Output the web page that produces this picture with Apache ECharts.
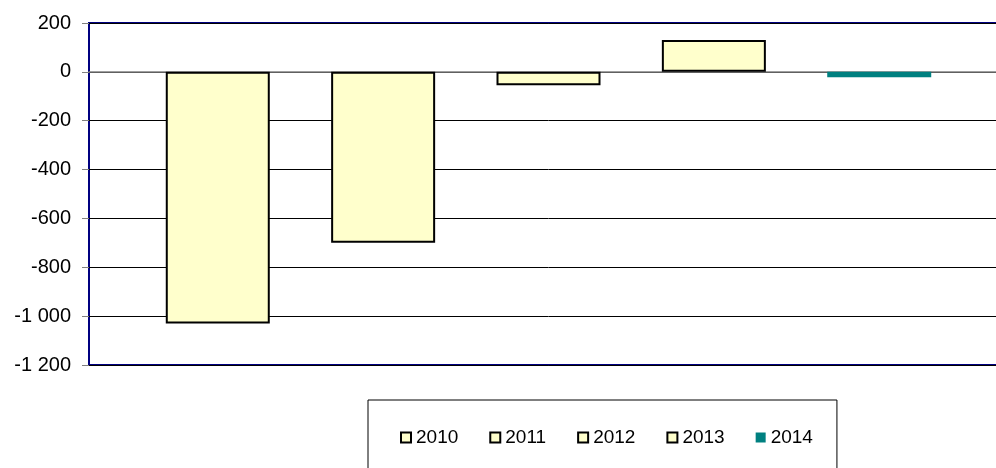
<!DOCTYPE html>
<html>
<head>
<meta charset="utf-8">
<script src="https://cdn.jsdelivr.net/npm/echarts@6/dist/echarts.min.js"></script>
<style>
  html, body { margin: 0; padding: 0; background: #fff; overflow: hidden; }
  #root { width: 1008px; height: 468px; }
</style>
</head>
<body>
<div id="root"></div>
<script>
// 数据
const years = ['2010', '2011', '2012', '2013', '2014'];
const values = [-1030, -700, -55, 130, -22];
const fills = ['#ffffcc', '#ffffcc', '#ffffcc', '#ffffcc', '#008080'];
const borders = ['#000', '#000', '#000', '#000', 'transparent'];

const FONT = 'Liberation Sans, Arial, sans-serif';

let fmt = function (v) {
    return String(v).replace(/\B(?=(\d{3})+(?!\d))/g, ' ');
};

let series = years.map((y, i) => {
    return {
        name: y,
        type: 'bar',
        data: [values[i]],
        barWidth: 104,
        barGap: '59%',
        itemStyle: {
            color: fills[i],
            borderColor: borders[i],
            borderWidth: i < 4 ? 2 : 0
        }
    };
});

// 图表区域比窗口宽一点，右边框在画面外
let myChart = echarts.init(document.getElementById('root'));
let option = {
    animation: false,
    grid: {
        left: 89,
        top: 23,
        bottom: 103,
        right: 0,
        show: true,
        borderColor: '#000080',
        borderWidth: 2,
        backgroundColor: '#fff'
    },
    legend: {
        data: years.map((y, i) => ({
            name: y,
            itemStyle: { color: fills[i], borderColor: borders[i], borderWidth: i < 4 ? 2 : 0 }
        })),
        left: 368,
        top: 400,
        orient: 'horizontal',
        icon: 'rect',
        itemWidth: 10,
        itemHeight: 10,
        itemGap: 31,
        padding: [28, 24, 60, 32],
        borderColor: '#000',
        borderWidth: 1,
        textStyle: { fontFamily: FONT, fontSize: 19, color: '#000' }
    },
    xAxis: {
        type: 'category',
        data: [''],
        axisLine: { show: true, onZero: true, lineStyle: { color: '#808080', width: 1.5 } },
        axisTick: { show: false },
        axisLabel: { show: false }
    },
    yAxis: {
        type: 'value',
        min: -1200,
        max: 200,
        interval: 200,
        axisLine: { show: false },
        axisTick: { show: true, length: 7, lineStyle: { color: '#808080' } },
        axisLabel: {
            margin: 18,
            fontFamily: FONT,
            fontSize: 20,
            color: '#000',
            formatter: fmt
        },
        splitLine: { lineStyle: { color: '#000', width: 1 } }
    },
    series: series
};
myChart.setOption(option);
</script>
</body>
</html>
